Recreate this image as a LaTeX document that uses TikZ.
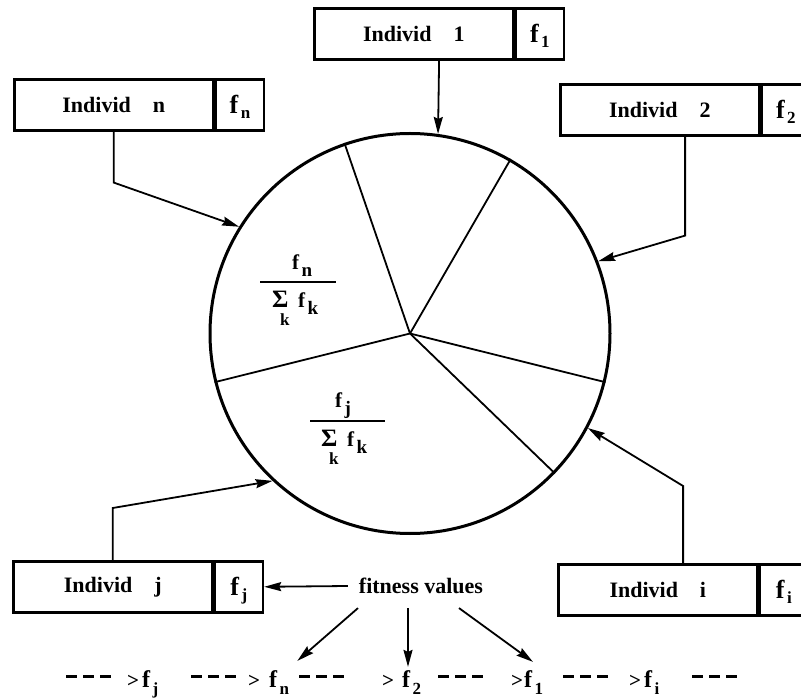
\documentclass[tikz,border=0pt]{standalone}
\usepackage{fontspec}
\setmainfont{Liberation Serif}
\usetikzlibrary{arrows.meta,calc}
\newcommand\fsub[2][17]{f\kern2.5pt\raisebox{-0.3em}{\fontsize{#1}{#1}\selectfont #2}}
\newcommand\fvsub[1]{f\kern2.5pt\raisebox{-0.2em}{\fontsize{17}{17}\selectfont #1}}
\newcommand\onedash{\rule[9pt]{11pt}{2.6pt}}
\newcommand\dashrow{\onedash\hspace{6pt}\onedash\hspace{6pt}\onedash}
\begin{document}
\begin{tikzpicture}[x=1pt,y=-1pt,
  txt/.style={font=\bfseries\fontsize{21}{24}\selectfont},
  bigtxt/.style={font=\bfseries\fontsize{24}{26}\selectfont},
  mainpart/.style={font=\bfseries\fontsize{22}{24}\selectfont, draw, line width=2.6pt, minimum width=199pt, minimum height=51pt, inner sep=0pt, anchor=north west},
  valpart/.style={draw, line width=2.6pt, minimum width=48pt, minimum height=51pt, inner sep=0pt, anchor=west,
    font=\bfseries\fontsize{26}{28}\selectfont, text height=17pt, text depth=0pt},
  arr/.style={line width=1.8pt, -{Stealth[length=17pt,width=9pt,inset=2pt]}},
  spoke/.style={line width=1.8pt},
  fracbar/.style={line width=2pt},
  row/.style={bigtxt, anchor=base west, inner sep=0pt},
  gt/.style={font=\bfseries\fontsize{21}{22}\selectfont, anchor=base west, inner sep=0pt},
  fr/.style={txt, anchor=base west, inner sep=0pt},
]
\useasboundingbox (0,0) rectangle (801,700);
% individual boxes
\node[mainpart] (ind1) at (313,7) {Individ\hspace{22pt}1};
\node[valpart] (fv1) at (ind1.east) {\fvsub{1}};
\node[mainpart] (indn) at (13,78) {Individ\hspace{22pt}n};
\node[valpart] (fvn) at (indn.east) {\fvsub{n}};
\node[mainpart] (ind2) at (559,83) {Individ\hspace{22pt}2};
\node[valpart] (fv2) at (ind2.east) {\fvsub{2}};
\node[mainpart] (indj) at (12,560) {Individ\hspace{22pt}j};
\node[valpart] (fvj) at (indj.east) {\fvsub{j}};
\node[mainpart] (indi) at (557,563) {Individ\hspace{22pt}i};
\node[valpart] (fvi) at (indi.east) {\fvsub{i}};
% wheel
\node[draw, circle, line width=3pt, minimum size=400pt, inner sep=0pt] (wheel) at (410,333.5) {};
\draw[spoke] (wheel.center) -- (wheel.109.6);
\draw[spoke] (wheel.center) -- (wheel.60);
\draw[spoke] (wheel.center) -- (wheel.-14.6);
\draw[spoke] (wheel.center) -- (wheel.-44.3);
\draw[spoke] (wheel.center) -- (wheel.194.3);
% fractions
\node[fr] (numn) at (292,270) {\fsub[19]{n}};
\coordinate (barnl) at (260,282);
\coordinate (barnr) at (336,282);
\draw[fracbar] (barnl) -- (barnr);
\node[fr, font=\bfseries\fontsize{25}{26}\selectfont] (sign) at (272,308) {Σ};
\node[fr, font=\bfseries\fontsize{17}{18}\selectfont] (kn) at (280,326) {k};
\node[fr] (fkn) at (298,308) {\fsub[19]{k}};
\node[fr] (numj) at (335,408) {\fsub[19]{j}};
\coordinate (barjl) at (310,421);
\coordinate (barjr) at (385,421);
\draw[fracbar] (barjl) -- (barjr);
\node[fr, font=\bfseries\fontsize{25}{26}\selectfont] (sigj) at (321,447) {Σ};
\node[fr, font=\bfseries\fontsize{17}{18}\selectfont] (kj) at (329,465) {k};
\node[fr] (fkj) at (347,447) {\fsub[19]{k}};
% arrows boxes -> wheel
\draw[arr] ($(ind1.south west)!.5!(fv1.south east)$) -- (wheel.82.6);
\draw[arr] (indn.south) -- ++(0,51) -- (wheel.148);
\draw[arr] ($(ind2.south west)!.5!(fv2.south east)$) -- ++(0,99) -- (wheel.21.7);
\draw[arr] (indj.north) -- ++(0,-52) -- (wheel.227.5);
\draw[arr] ($(indi.north west)!.5!(fvi.north east)$) -- ++(0,-77) -- (wheel.-28);
% fitness values
\node[font=\bfseries\fontsize{22}{24}\selectfont, inner xsep=11pt, inner ysep=14pt] (fit) at (421,586) {fitness values};
\draw[arr] (fit.west) -- (fvj.east);
% bottom row
\node[row] (d1) at (66,687) {\dashrow};
\node[gt] (gt1) at (127,687) {>};
\node[row] (fj) at (142,687) {\fsub{j}};
\node[row] (d2) at (191,687) {\dashrow};
\node[gt] (gt2) at (248,687) {>};
\node[row] (fn) at (269,687) {\fsub{n}};
\node[row] (d3) at (299,687) {\dashrow};
\node[gt] (gt3) at (382,687) {>};
\node[row] (f2) at (402,687) {\fsub{2}};
\node[row] (d4) at (438,687) {\dashrow};
\node[gt] (gt4) at (511,687) {>};
\node[row] (f1) at (524,687) {\fsub{1}};
\node[row] (d5) at (563,687) {\dashrow};
\node[gt] (gt5) at (629,687) {>};
\node[row] (fi) at (644,687) {\fsub{i}};
\node[row] (d6) at (692,687) {\dashrow};
\draw[arr] ([xshift=-63pt]fit.south) -- ([xshift=8pt,yshift=9pt]fn.north east);
\draw[arr] ([xshift=-13pt]fit.south) -- ([xshift=6pt,yshift=3pt]f2.north west);
\draw[arr] ([xshift=38pt]fit.south) -- ([xshift=9pt,yshift=8pt]f1.north west);
\end{tikzpicture}
\end{document}
